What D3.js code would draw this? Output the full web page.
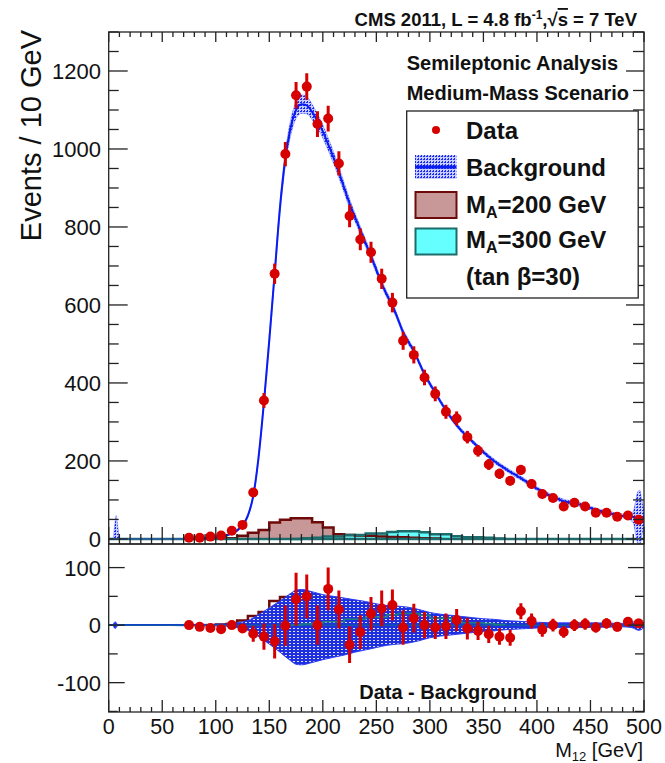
<!DOCTYPE html>
<html><head><meta charset="utf-8">
<script src="https://cdn.jsdelivr.net/npm/d3@7"></script>
<style>
html,body{margin:0;padding:0;background:#fff;}
svg{display:block;font-family:"Liberation Sans",Arial,Helvetica,sans-serif;}
</style></head><body>
<svg id="c" width="665" height="763"></svg>
<script>
// ---------------- data ----------------
const massCenters = [75,85,95,105,115,125,135,145,155,165,175,185,195,205,215,225,235,245,255,265,275,285,295,305,315,325,335,345,355,365,375,385,395,405,415,425,435,445,455,465,475,485,495];
const dataEvents  = [3,3,6,9,21,36,119,355,680,987,1138,1160,1064,1078,963,828,768,735,667,606,508,472,414,372,326,309,261,226,191,167,149,177,141,115,105,83,93,83,67,67,57,60,49];
const dataErrors  = [2,2,2.5,3,4.6,6,11,19,26,31,34,34,33,33,31,29,28,27,26,25,23,22,20,19,18,18,16,15,14,13,12,13,12,11,10,9,10,9,8,8,8,8,7];
const diffValues  = [0,-3,-5,-7,0,-6,-15,-20,-28,-1,45,50,0,63,27,-34,-12,20,29,35,-4,12,0,-4,-2,9,-6,-10,-16,-20,-22,24,7,-8,0,-12,0,2,-4,3,-3,6,3];
const diffErrors  = [2,2,2,3,4,5,14,23,30,35,46,38,34,37,33,32,29,29,31,27,30,25,23,20,22,19,19,16,15,14,14,14,13,12,11,10,10,10,9,9,8,8,8];

const bgMass   = [0,4,5,6,7,8,9,10,11,20,40,60,70,80,90,100,105,110,115,120,125,130,135,140,145,150,155,160,165,170,175,180,185,190,195,200,205,210,215,220,225,230,235,240,245,250,255,260,265,270,275,280,285,290,295,300,305,310,315,320,325,330,335,340,345,350,355,360,365,370,375,380,385,390,395,400,405,410,415,420,425,430,435,440,445,450,455,460,465,470,475,480,485,490,492,494,496,498,500];
const bgEvents = [0,0,10,22,30,22,10,0,0,0,0,0,0,0.5,2,4,6,9,14,22,35,60,110,210,350,510,680,850,975,1055,1100,1115,1112,1095,1072,1045,1012,978,940,900,860,825,792,758,725,690,655,625,598,565,530,505,482,452,422,398,375,352,330,310,292,276,262,249,236,223,211,200,190,181,172,164,156,147,138,129,121,114,108,102,97,94,91,88,85,79,74,70,67,64,61,59,57,56,55,55,55,54,54];
const bgUnc    = [0,0,10,22,30,22,10,0,0,0,0,0,0,0.5,1,1,1.5,2,2,3,3,4,5,8,10,12,14,16,18,20,22,24,22,20,18,17,16,15,14,13,12,11,10,10,9,9,8,8,8,7,7,7,6,6,6,6,5,5,5,5,5,5,5,5,5,5,5,5,5,5,5,5,5,5,5,5,5,5,5,5,5,5,5,5,5,5,5,5,5,5,5,5,6,15,40,65,70,45,20];

const diffBandMass = [0,4,5,6,7,9,20,70,100,110,120,130,140,150,160,170,175,180,190,200,210,220,230,240,250,260,270,280,290,300,310,320,330,340,350,360,370,380,390,400,420,450,480,488,492,495,498,500];
const diffBandUp   = [0,0,4,6,4,0,0,1,1.5,2,4,8,18,30,42,55,61,62,58,53,50,47,44,41,37,34,33,31,27,22,19,17,15,13,11,10,8,7,6,5,4,4,3,4,7,9,7,4];
const diffBandDown = [0,0,4,6,4,0,0,1,1.5,2,4,9,20,33,47,62,68,69,65,60,56,52,47,43,39,35,33,31,27,22,19,17,15,13,11,10,8,7,6,5,4,4,3,4,7,9,7,4];

const sig200Edges  = [100,110,120,130,140,150,160,170,180,190,200,210,220,230,240,250,260,270,280,290,300,310];
const sig200Events = [1,2,8,16,23,42,49,53,53,43,29,12,10,9,8,6,5,4,3,2,1];
const sig300Edges  = [170,180,190,200,210,220,230,240,250,260,270,280,290,300,310,320,330,340,350,360,370];
const sig300Events = [0,2,3,6,6,10,10,14,14,18,20,20,17,12,12,7,4,4,3,1];

const xTicks = [0,50,100,150,200,250,300,350,400,450,500];
const yTicksTop = [0,200,400,600,800,1000,1200];
const yTicksBottom = [-100,0,100];

// ---------------- layout ----------------
const svg = d3.select("#c");
const L = 108.7, R = 644;
const topY0 = 32, topY1 = 544, botY0 = 544, botY1 = 712;
const x = d3.scaleLinear().domain([0,500]).range([L,R]);
const yT = d3.scaleLinear().domain([-13,1300]).range([topY1,topY0]);
const yB = d3.scaleLinear().domain([-151,141]).range([botY1,botY0]);

const RED = "#d60000", BLUE = "#0b1cf0";
const defs = svg.append("defs");
defs.append("clipPath").attr("id","clipT").append("rect").attr("x",L).attr("y",topY0).attr("width",R-L).attr("height",topY1-topY0);
defs.append("clipPath").attr("id","clipB").append("rect").attr("x",L).attr("y",botY0).attr("width",R-L).attr("height",botY1-botY0);
// hatch patterns
const p1 = defs.append("pattern").attr("id","hatchT").attr("patternUnits","userSpaceOnUse").attr("width",3).attr("height",3);
p1.append("rect").attr("width",3).attr("height",3).attr("fill","#c8ccff");
p1.append("rect").attr("width",2).attr("height",1).attr("fill","#1a2cf0");
p1.append("rect").attr("y",2).attr("x",1).attr("width",1).attr("height",1).attr("fill","#1a2cf0");
const p2 = defs.append("pattern").attr("id","hatchB").attr("patternUnits","userSpaceOnUse").attr("width",4).attr("height",3);
p2.append("rect").attr("width",4).attr("height",3).attr("fill","#1f30e0");
p2.append("rect").attr("x",1).attr("y",1).attr("width",2).attr("height",1).attr("fill","#dfe2ff");

// ---------- upper panel ----------
const gT = svg.append("g").attr("clip-path","url(#clipT)");
function stepPath(edges, vals, ys){
  let p = "M"+x(edges[0])+","+ys(0);
  vals.forEach((v,i)=>{ p += "L"+x(edges[i])+","+ys(v)+"L"+x(edges[i+1])+","+ys(v); });
  p += "L"+x(edges[edges.length-1])+","+ys(0);
  return p;
}
gT.append("path").attr("d",stepPath(sig200Edges,sig200Events,yT)+"Z").attr("fill","#c89797").attr("stroke","none");
gT.append("path").attr("d",stepPath(sig300Edges,sig300Events,yT)+"Z").attr("fill","#66ffff").attr("stroke","none");
gT.append("path").attr("d",stepPath(sig200Edges,sig200Events,yT)).attr("fill","none").attr("stroke","#6e0a0a").attr("stroke-width",2.5);
gT.append("path").attr("d",stepPath(sig300Edges,sig300Events,yT)).attr("fill","none").attr("stroke","#1d6b6b").attr("stroke-width",2.5);
gT.append("line").attr("x1",x(0)).attr("x2",x(500)).attr("y1",yT(0)).attr("y2",yT(0)).attr("stroke","#1d6b6b").attr("stroke-width",2.5);

const bg = bgMass.map((m,i)=>({m, y:bgEvents[i], e:bgUnc[i]}));
gT.append("path").datum(bg).attr("d", d3.area().x(d=>x(d.m)).y0(d=>yT(d.y-d.e)).y1(d=>yT(d.y+d.e)).curve(d3.curveMonotoneX))
  .attr("fill","url(#hatchT)").attr("stroke","#3a4cff").attr("stroke-width",0.6).attr("stroke-opacity",0.6);
gT.append("path").datum(bg.filter(d=>d.m>=70)).attr("d", d3.line().x(d=>x(d.m)).y(d=>yT(d.y)).curve(d3.curveMonotoneX))
  .attr("fill","none").attr("stroke",BLUE).attr("stroke-width",2);

const dat = massCenters.map((m,i)=>({m, y:dataEvents[i], e:dataErrors[i]}));
gT.selectAll("line.err").data(dat).enter().append("line")
  .attr("x1",d=>x(d.m)).attr("x2",d=>x(d.m)).attr("y1",d=>yT(d.y-d.e)).attr("y2",d=>yT(d.y+d.e))
  .attr("stroke",RED).attr("stroke-width",3);
gT.selectAll("circle.pt").data(dat).enter().append("circle")
  .attr("cx",d=>x(d.m)).attr("cy",d=>yT(d.y)).attr("r",5).attr("fill",RED);

// ---------- lower panel ----------
const gB = svg.append("g").attr("clip-path","url(#clipB)");
gB.append("path").attr("d",stepPath(sig200Edges,sig200Events,yB)).attr("fill","none").attr("stroke","#6e0a0a").attr("stroke-width",2.5);
const band = diffBandMass.map((m,i)=>({m, u:diffBandUp[i], d:diffBandDown[i]}));
gB.append("path").datum(band).attr("d", d3.area().x(d=>x(d.m)).y0(d=>yB(-d.d)).y1(d=>yB(d.u)).curve(d3.curveMonotoneX))
  .attr("fill","url(#hatchB)").attr("stroke","#2a3cf0").attr("stroke-width",1);
gB.append("line").attr("x1",x(0)).attr("x2",x(500)).attr("y1",yB(0)).attr("y2",yB(0)).attr("stroke",BLUE).attr("stroke-width",2);
gB.append("path").attr("d",stepPath(sig300Edges,sig300Events,yB)).attr("fill","none").attr("stroke","#1d8080").attr("stroke-width",1.5);
gB.append("line").attr("x1",x(0)).attr("x2",x(500)).attr("y1",yB(0)).attr("y2",yB(0)).attr("stroke","#1d8080").attr("stroke-width",1);
const dd = massCenters.map((m,i)=>({m, y:diffValues[i], e:diffErrors[i]}));
gB.selectAll("line.err").data(dd).enter().append("line")
  .attr("x1",d=>x(d.m)).attr("x2",d=>x(d.m)).attr("y1",d=>yB(d.y-d.e)).attr("y2",d=>yB(d.y+d.e))
  .attr("stroke",RED).attr("stroke-width",3);
gB.selectAll("circle.pt").data(dd).enter().append("circle")
  .attr("cx",d=>x(d.m)).attr("cy",d=>yB(d.y)).attr("r",5).attr("fill",RED);

// ---------- frames & ticks ----------
const AX = "#222";
svg.append("rect").attr("x",L).attr("y",topY0).attr("width",R-L).attr("height",topY1-topY0).attr("fill","none").attr("stroke",AX).attr("stroke-width",1.3);
svg.append("rect").attr("x",L).attr("y",botY0).attr("width",R-L).attr("height",botY1-botY0).attr("fill","none").attr("stroke",AX).attr("stroke-width",1.3);

function tick(x1,y1,x2,y2){ svg.append("line").attr("x1",x1).attr("y1",y1).attr("x2",x2).attr("y2",y2).attr("stroke",AX).attr("stroke-width",1.3); }
x.ticks(50).forEach(v=>{
  const major = xTicks.includes(v);
  const px = x(v);
  tick(px, topY1, px, topY1-(major?17:10));
  tick(px, topY0, px, topY0+(major?10:5));
  tick(px, botY1, px, botY1-(major?12:5));
});
yT.ticks(26).filter(v=>v>=0 && v<=1300 && v%50===0).forEach(v=>{
  const major = yTicksTop.includes(v);
  tick(L, yT(v), L+(major?19:10), yT(v));
  tick(R, yT(v), R-(major?18:11), yT(v));
});
[-150,-100,-50,0,50,100].forEach(v=>{
  const major = yTicksBottom.includes(v);
  tick(L, yB(v), L+(major?16:9), yB(v));
  tick(R, yB(v), R-(major?16:9), yB(v));
});

// tick labels
const lab = svg.append("g").attr("font-size",22).attr("fill","#111");
yTicksTop.forEach(v=>lab.append("text").attr("x",101).attr("y",yT(v)+8).attr("text-anchor","end").text(v));
yTicksBottom.forEach(v=>lab.append("text").attr("x",101).attr("y",yB(v)+8).attr("text-anchor","end").text(v));
xTicks.forEach(v=>lab.append("text").attr("x",x(v)).attr("y",734).attr("font-size",21.5).attr("text-anchor","middle").text(v));

// axis titles
svg.append("text").attr("transform","translate(41,30) rotate(-90)").attr("text-anchor","end")
  .attr("font-size",29).attr("fill","#111").text("Events / 10 GeV");
const xt = svg.append("text").attr("x",643).attr("y",757).attr("text-anchor","end").attr("font-size",20).attr("fill","#111");
xt.append("tspan").text("M");
xt.append("tspan").attr("font-size",13).attr("dy",4).text("12");
xt.append("tspan").attr("dy",-4).text(" [GeV]");

// header
const hd = svg.append("text").attr("x",637).attr("y",26).attr("text-anchor","end").attr("font-size",18.5).attr("font-weight","bold").attr("fill","#111");
hd.append("tspan").text("CMS 2011, L = 4.8 fb");
hd.append("tspan").attr("font-size",12).attr("dy",-7).text("-1");
hd.append("tspan").attr("dy",7).text(",\u221A");
hd.append("tspan").attr("text-decoration","overline").text("s");
hd.append("tspan").text(" = 7 TeV");

// text labels
svg.append("text").attr("x",406.7).attr("y",70).attr("font-size",20).attr("font-weight","bold").attr("fill","#111").text("Semileptonic Analysis");
svg.append("text").attr("x",406.7).attr("y",100).attr("font-size",20).attr("font-weight","bold").attr("fill","#111").text("Medium-Mass Scenario");
svg.append("text").attr("x",537).attr("y",699).attr("text-anchor","end").attr("font-size",20).attr("font-weight","bold").attr("fill","#111").text("Data - Background");

// legend
const lg = svg.append("g");
lg.append("rect").attr("x",406.7).attr("y",111).attr("width",231.5).attr("height",187).attr("fill","#fff").attr("stroke",AX).attr("stroke-width",1.3);
const lt = (yy)=>lg.append("text").attr("x",466).attr("y",yy).attr("font-size",24).attr("font-weight","bold").attr("fill","#111");
lg.append("circle").attr("cx",436).attr("cy",130).attr("r",4).attr("fill",RED);
lt(139).text("Data");
lg.append("rect").attr("x",415).attr("y",155).attr("width",41.5).attr("height",24).attr("fill","url(#hatchT)");
lg.append("line").attr("x1",415).attr("x2",456.5).attr("y1",167).attr("y2",167).attr("stroke",BLUE).attr("stroke-width",3);
lt(175.5).text("Background");
lg.append("rect").attr("x",415.5).attr("y",192).attr("width",41).attr("height",26).attr("fill","#c89797").attr("stroke","#6e0a0a").attr("stroke-width",2);
const t2 = lt(212.5); t2.append("tspan").text("M"); t2.append("tspan").attr("font-size",16).attr("dy",5).text("A"); t2.append("tspan").attr("dy",-5).text("=200 GeV");
lg.append("rect").attr("x",415.5).attr("y",228.5).attr("width",41).attr("height",26).attr("fill","#66ffff").attr("stroke","#1d6b6b").attr("stroke-width",2);
const t3 = lt(248); t3.append("tspan").text("M"); t3.append("tspan").attr("font-size",16).attr("dy",5).text("A"); t3.append("tspan").attr("dy",-5).text("=300 GeV");
lt(284.5).text("(tan \u03B2=30)");
</script>
</body></html>
